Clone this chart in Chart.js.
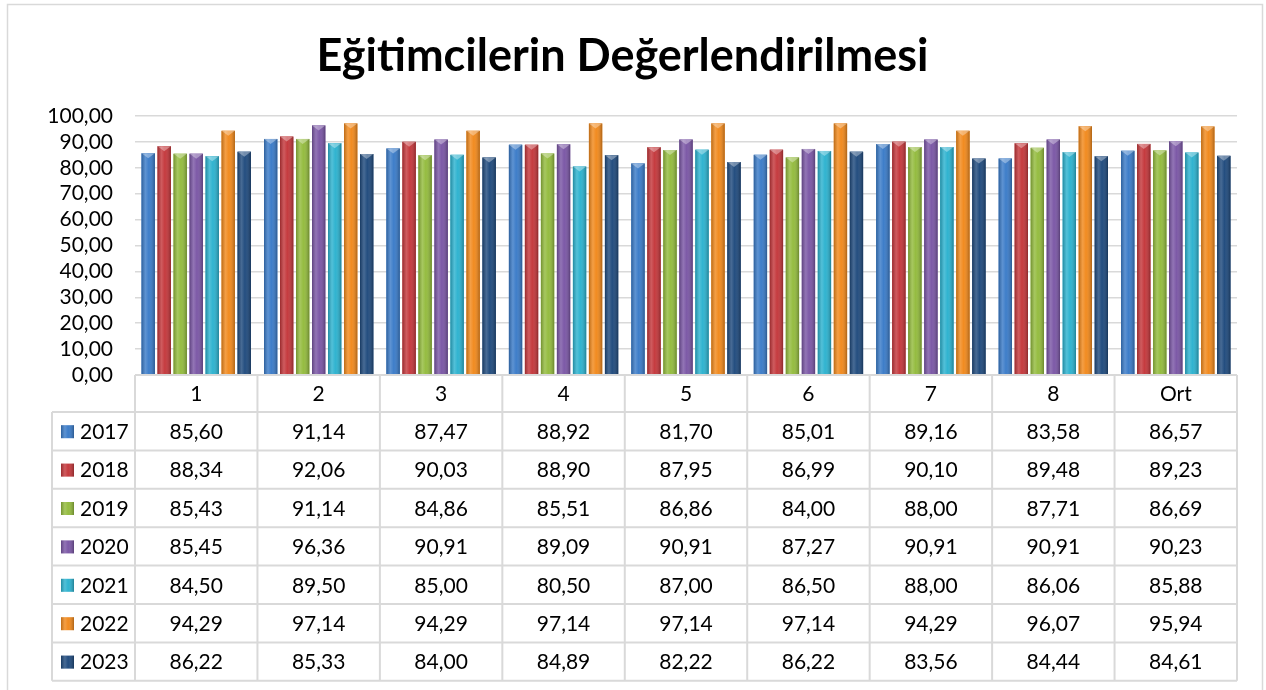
<html>
  <script src="https://cdn.jsdelivr.net/npm/chart.js"></script>
  <body style="margin:0; background:#fff">
    <div style="width:1266px; height:690px">
      <canvas id="myChart" width="1266" height="690"></canvas>
    </div>
  </body>
  <script>
    // data
    var categories = ["1", "2", "3", "4", "5", "6", "7", "8", "Ort"];
    var years = ["2017", "2018", "2019", "2020", "2021", "2022", "2023"];
    var y2017 = [85.60, 91.14, 87.47, 88.92, 81.70, 85.01, 89.16, 83.58, 86.57];
    var y2018 = [88.34, 92.06, 90.03, 88.90, 87.95, 86.99, 90.10, 89.48, 89.23];
    var y2019 = [85.43, 91.14, 84.86, 85.51, 86.86, 84.00, 88.00, 87.71, 86.69];
    var y2020 = [85.45, 96.36, 90.91, 89.09, 90.91, 87.27, 90.91, 90.91, 90.23];
    var y2021 = [84.50, 89.50, 85.00, 80.50, 87.00, 86.50, 88.00, 86.06, 85.88];
    var y2022 = [94.29, 97.14, 94.29, 97.14, 97.14, 97.14, 94.29, 96.07, 95.94];
    var y2023 = [86.22, 85.33, 84.00, 84.89, 82.22, 86.22, 83.56, 84.44, 84.61];
    var yTicks = [0, 10, 20, 30, 40, 50, 60, 70, 80, 90, 100];

    var series = [y2017, y2018, y2019, y2020, y2021, y2022, y2023];
    var colors = ["#3a7bc8", "#c4373b", "#93bb3d", "#7a56a5", "#2cb2cf", "#f1891c", "#1f4a7d"];
    var gridColor = "#d9d9d9";
    var font = "Lato";

    function fmt(v) {
      return v.toFixed(2).replace(".", ",");
    }

    function bevel(ctx, x, y, w, h, color) {
      ctx.fillStyle = color;
      ctx.fillRect(x, y, w, h);
      var g = ctx.createLinearGradient(x, 0, x + w, 0);
      g.addColorStop(0, "rgba(0,0,0,0.22)");
      g.addColorStop(0.3, "rgba(255,255,255,0.18)");
      g.addColorStop(0.55, "rgba(255,255,255,0.02)");
      g.addColorStop(1, "rgba(0,0,0,0.28)");
      ctx.fillStyle = g;
      ctx.fillRect(x, y, w, h);
    }

    // frame + white background
    var framePlugin = {
      id: "frame",
      beforeDraw: function (chart) {
        var c = chart.ctx;
        c.save();
        c.fillStyle = "#fff";
        c.fillRect(0, 0, chart.width, chart.height);
        c.strokeStyle = gridColor;
        c.lineWidth = 1.5;
        c.strokeRect(7.5, 4.5, 1255, chart.height + 20);
        c.restore();
      }
    };

    // shading on bars, small top facet
    var shadePlugin = {
      id: "shade",
      afterDatasetsDraw: function (chart) {
        var c = chart.ctx;
        c.save();
        chart.data.datasets.forEach(function (ds, di) {
          var meta = chart.getDatasetMeta(di);
          meta.data.forEach(function (bar) {
            var w = bar.width, x = bar.x - w / 2;
            bevel(c, x, bar.y, w, bar.base - bar.y, colors[di]);
            c.fillStyle = "rgba(255,255,255,0.35)";
            c.beginPath();
            c.moveTo(x, bar.y);
            c.lineTo(x + w, bar.y);
            c.lineTo(bar.x, bar.y + 5);
            c.closePath();
            c.fill();
          });
        });
        c.restore();
      }
    };

    // data table under the plot, columns from the x scale
    var tablePlugin = {
      id: "dataTable",
      afterDraw: function (chart) {
        var c = chart.ctx;
        var area = chart.chartArea;
        var xs = chart.scales.x;
        var n = categories.length;
        var colW = (area.right - area.left) / n;
        var top = area.bottom;
        var headH = 37;
        var rowH = 38.4;
        var legLeft = 52;
        var bottom = top + headH + rowH * years.length;
        c.save();
        c.strokeStyle = gridColor;
        c.lineWidth = 2;
        c.beginPath();
        // horizontal lines
        c.moveTo(area.left, top);
        c.lineTo(area.right, top);
        for (var r = 0; r <= years.length; r++) {
          var yy = top + headH + r * rowH;
          c.moveTo(legLeft, yy);
          c.lineTo(area.right, yy);
        }
        // vertical lines
        for (var k = 0; k <= n; k++) {
          var xx = area.left + k * colW;
          c.moveTo(xx, top);
          c.lineTo(xx, bottom);
        }
        c.moveTo(legLeft, top + headH);
        c.lineTo(legLeft, bottom);
        c.stroke();

        c.fillStyle = "#000";
        c.font = "21px " + font;
        c.textAlign = "center";
        c.textBaseline = "middle";
        categories.forEach(function (cat, i) {
          c.fillText(cat, xs.getPixelForValue(i), top + headH / 2 + 1);
        });
        series.forEach(function (vals, r) {
          var cy = top + headH + r * rowH + rowH / 2 + 1;
          vals.forEach(function (v, i) {
            c.fillText(fmt(v), xs.getPixelForValue(i), cy);
          });
        });
        c.textAlign = "left";
        years.forEach(function (yr, r) {
          var cy = top + headH + r * rowH + rowH / 2;
          bevel(c, 61, cy - 6, 13, 13, colors[r]);
          c.fillStyle = "#000";
          c.fillText(yr, 80, cy + 1);
        });
        c.restore();
      }
    };

    var dataObj = {
      type: "bar",
      data: {
        labels: categories,
        datasets: years.map(function (yr, i) {
          return {
            label: yr,
            data: series[i],
            backgroundColor: colors[i],
            borderWidth: 0,
            categoryPercentage: 0.915,
            barPercentage: 0.83
          };
        })
      },
      options: {
        responsive: false,
        animation: false,
        layout: { padding: { left: 8, right: 29, top: 0, bottom: 0 } },
        plugins: {
          legend: { display: false },
          tooltip: { enabled: false },
          title: {
            display: true,
            text: "Eğitimcilerin Değerlendirilmesi",
            color: "#000",
            font: { family: font, size: 45, weight: "bold", lineHeight: 1.2 },
            padding: { top: 29, bottom: 33 }
          }
        },
        scales: {
          x: {
            ticks: { display: false },
            grid: { display: false },
            border: { display: false },
            afterFit: function (s) { s.height = 315; }
          },
          y: {
            min: 0,
            max: 100,
            afterBuildTicks: function (s) {
              s.ticks = yTicks.map(function (v) { return { value: v }; });
            },
            ticks: {
              color: "#000",
              padding: 22,
              autoSkip: false,
              font: { family: font, size: 21 },
              callback: function (v) { return fmt(v); }
            },
            grid: { color: gridColor, lineWidth: 1.5, drawTicks: false },
            border: { display: false },
            afterFit: function (s) { s.width = 127; }
          }
        }
      },
      plugins: [framePlugin, shadePlugin, tablePlugin]
    };
    const ctx = document.getElementById("myChart").getContext("2d");
    window.myChart = new Chart(ctx, dataObj);
  </script>
</html>
